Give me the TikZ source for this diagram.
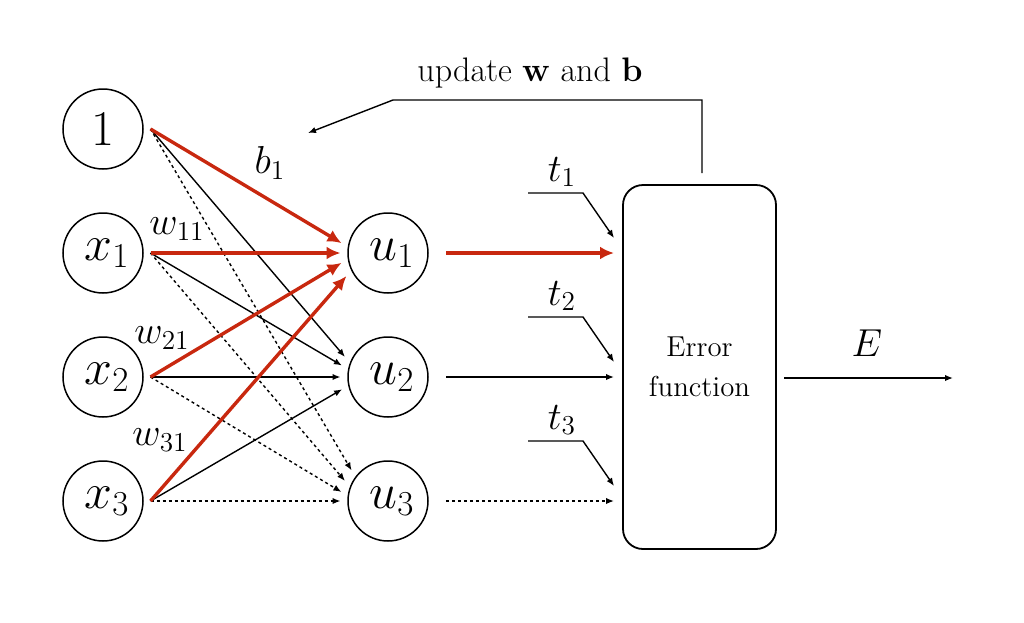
\RequirePackage{fix-cm}
\documentclass[tikz,border=0pt]{standalone}
\usetikzlibrary{arrows.meta}
\definecolor{redc}{RGB}{200,40,15}
\newcommand{\shiftmath}[1]{\kern4pt$#1$}
\begin{document}
\begin{tikzpicture}[x=0.5pt,y=-0.5pt,
  neuron/.style={circle,draw,line width=0.75pt,minimum size=40pt,inner sep=0pt,font=\fontsize{25}{30}\selectfont},
  port/.style={circle,minimum size=47.5pt,inner sep=0pt,outer sep=0pt},
  thinarrow/.style={line width=0.7pt,-{Latex[length=4pt,width=3.2pt]}},
  dottedarrow/.style={thinarrow,dash pattern=on 1.5pt off 1.5pt},
  redarrow/.style={line width=1.7pt,color=redc,-{Latex[length=7pt,width=6.5pt]}},
  lbl/.style={font=\fontsize{19.5}{23}\selectfont},
  txt/.style={font=\fontsize{17}{21}\selectfont},
  errbox/.style={draw,rounded corners=10pt,line width=0.9pt,minimum width=76.5pt,minimum height=182pt,align=center,font=\fontsize{14.4}{20}\selectfont}
]
\useasboundingbox (0,0) rectangle (1024,622);

% input neurons
\node[neuron] (n0) at (103,129) {$1$};
\node[neuron] (n1) at (103,253) {\shiftmath{x_1}};
\node[neuron] (n2) at (103,377) {\shiftmath{x_2}};
\node[neuron] (n3) at (103,501) {\shiftmath{x_3}};
% hidden neurons
\node[neuron] (h1) at (388,253) {\shiftmath{u_1}};
\node[neuron] (h2) at (388,377) {\shiftmath{u_2}};
\node[neuron] (h3) at (388,501) {\shiftmath{u_3}};
% ports
\node[port] (p0) at (n0) {};
\node[port] (p1) at (n1) {};
\node[port] (p2) at (n2) {};
\node[port] (p3) at (n3) {};
\node[port] (q1) at (h1) {};
\node[port] (q2) at (h2) {};
\node[port] (q3) at (h3) {};

% dotted to u3
\draw[dottedarrow] (p0.east) -- (q3.140);
\draw[dottedarrow] (p1.east) -- (q3.155);
\draw[dottedarrow] (p2.east) -- (q3.169);
\draw[dottedarrow] (p3.east) -- (q3.180);
% solid to u2
\draw[thinarrow] (p0.east) -- (q2.155);
\draw[thinarrow] (p1.east) -- (q2.166);
\draw[thinarrow] (p2.east) -- (q2.180);
\draw[thinarrow] (p3.east) -- (q2.195);
% red to u1
\draw[redarrow] (p0.east) -- (q1.168);
\draw[redarrow] (p1.east) -- (q1.180);
\draw[redarrow] (p2.east) -- (q1.192);
\draw[redarrow] (p3.east) -- (q1.209);

% weight labels
\node[lbl] (b1) at (270,163) {$b_1$};
\node[lbl] (w11) at (177,229) {$w_{11}$};
\node[lbl] (w21) at (162,338) {$w_{21}$};
\node[lbl] (w31) at (160,440) {$w_{31}$};

% error box
\node[errbox] (err) at (699.5,367) {Error\\function};

% outputs to error box
\coordinate (o1) at (446,253);
\coordinate (o2) at (446,377);
\coordinate (o3) at (446,501);
\coordinate (e1) at (614,253);
\coordinate (e2) at (614,377);
\coordinate (e3) at (614,501);
\draw[redarrow] (o1) -- (e1);
\draw[thinarrow] (o2) -- (e2);
\draw[dottedarrow] (o3) -- (e3);

% targets
\node[lbl] (t1) at (562,172) {$t_1$};
\node[lbl] (t2) at (562,296) {$t_2$};
\node[lbl] (t3) at (562,420) {$t_3$};
\coordinate (t1a) at (528,193); \coordinate (t1b) at (583,193); \coordinate (t1c) at (614,238);
\coordinate (t2a) at (528,317); \coordinate (t2b) at (583,317); \coordinate (t2c) at (614,362);
\coordinate (t3a) at (528,441); \coordinate (t3b) at (583,441); \coordinate (t3c) at (614,486);
\draw[thinarrow] (t1a) -- (t1b) -- (t1c);
\draw[thinarrow] (t2a) -- (t2b) -- (t2c);
\draw[thinarrow] (t3a) -- (t3b) -- (t3c);

% E output
\coordinate (eo) at (784,378);
\coordinate (ee) at (953,378);
\draw[thinarrow] (eo) -- (ee);
\node[lbl] (E) at (867,343) {$E$};

% update feedback
\node[txt] (upd) at (530,73) {update $\mathbf{w}$ and $\mathbf{b}$};
\coordinate (ua) at (702,173);
\coordinate (ub) at (702,100);
\coordinate (uc) at (393,100);
\coordinate (ud) at (308,133);
\draw[thinarrow] (ua) -- (ub) -- (uc) -- (ud);
\end{tikzpicture}
\end{document}
